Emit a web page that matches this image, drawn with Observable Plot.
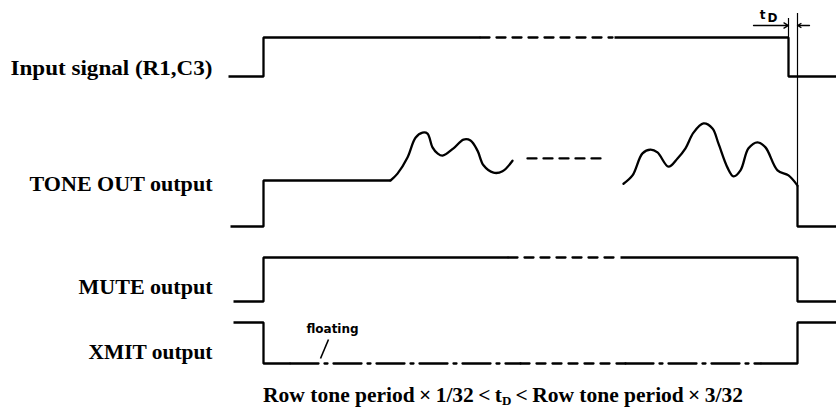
<!DOCTYPE html>
<html><head><meta charset="utf-8">
<script src="https://cdn.jsdelivr.net/npm/d3@7"></script>
<script src="https://cdn.jsdelivr.net/npm/@observablehq/plot@0.6"></script>
<style>
body{margin:0;background:#fff;}
#wrap{width:836px;}
#caption{position:relative;height:37px;width:836px;font-family:"Liberation Serif",serif;font-size:21.5px;line-height:30px;color:#000;}
#caption span{position:absolute;left:503px;transform:translateX(-50%);white-space:nowrap;font-weight:bold;}
#caption sub{font-size:13px;vertical-align:-3px;line-height:0;}
</style></head><body><div id="wrap"></div>
<script>
// Time in arbitrary units (t = 0 at the rising edge of the input); level 0 = low, 1 = high.
const inputA   = [[-35,0],[0,0],[0,1],[217,1]];
const inputB   = [[217,1],[349,1]];                       // broken (time gap)
const inputC   = [[351,1],[525,1],[525,0],[573,0]];

const toneStep = [[-33,0],[0,0],[0,1],[127,1]];
const toneBurst1 = [[127,1],[134,1.15],[144,1.5],[152,1.93],[159,2.04],[164,2.02],[169,1.72],[174,1.59],[179,1.54],[190,1.7],[200,1.89],[207,1.87],[214,1.65],[220,1.33],[230,1.17],[239,1.2],[249,1.43]];
const toneGap  = [[264,1.48],[340,1.48]];
const toneBurst2 = [[360,0.93],[369,1.11],[379,1.59],[387,1.67],[394,1.61],[405,1.3],[414,1.48],[422,1.7],[430,2.04],[440,2.24],[449,2.13],[455,1.8],[464,1.28],[470,1.09],[477,1.22],[485,1.7],[494,1.83],[502,1.72],[514,1.22],[525,1.11],[534,0.89]];
const toneFall = [[534,0.89],[534,0],[573,0]];

const muteA = [[-30,0],[0,0],[0,1],[245,1]];
const muteB = [[245,1],[357,1]];
const muteC = [[357,1],[534,1],[534,0],[573,0]];

const xmitA = [[-30,1],[0,1],[0,0],[27,0]];
const xmitFloat1 = [[27,0],[257,0]];
const xmitFloat2 = [[257,0],[362,0]];
const xmitFloat3 = [[362,0],[497,0]];
const xmitB = [[497,0],[534,0],[534,1],[573,1]];

const signalLabels = ["Input signal (R1,C3)", "TONE OUT output", "MUTE output", "XMIT output"];
const tracks = ["input", "tone", "mute", "xmit"];
const edgeTimes = [525, 534];   // input falls, outputs fall (t_D later)

// ---- layout (pixels) ----
const trackBase = {input: 76, tone: 226, mute: 301, xmit: 363};
const trackAmp  = {input: 39, tone: 46, mute: 44, xmit: 41};
const labelY    = {input: 67, tone: 183, mute: 286, xmit: 351};
const labelWidth = {input: 202, tone: 183, mute: 134, xmit: 124};

const traces = [
  {track:"input", style:"solid",  pts: inputA},
  {track:"input", style:"dash",   pts: inputB},
  {track:"input", style:"solid",  pts: inputC},
  {track:"tone",  style:"solid",  pts: toneStep},
  {track:"tone",  style:"curve",  pts: toneBurst1},
  {track:"tone",  style:"dash",   pts: toneGap},
  {track:"tone",  style:"curve",  pts: toneBurst2},
  {track:"tone",  style:"solid",  pts: toneFall},
  {track:"mute",  style:"solid",  pts: muteA},
  {track:"mute",  style:"dash",   pts: muteB},
  {track:"mute",  style:"solid",  pts: muteC},
  {track:"xmit",  style:"solid",  pts: xmitA},
  {track:"xmit",  style:"dashdot",pts: xmitFloat1},
  {track:"xmit",  style:"dash",   pts: xmitFloat2},
  {track:"xmit",  style:"dashdot",pts: xmitFloat3},
  {track:"xmit",  style:"solid",  pts: xmitB}
];
const rows = traces.flatMap((tr, i) => tr.pts.map(([t, l]) => ({id: i, style: tr.style, t, y: trackBase[tr.track] - l * trackAmp[tr.track]})));
const of = s => rows.filter(r => r.style === s);

const labelRows = signalLabels.map((s, i) => ({text: s, t: -51, y: labelY[tracks[i]]}));

const serif = "Liberation Serif, serif";
const sans = "DejaVu Sans, sans-serif";
const W = 2.3;

const plot = Plot.plot({
  width: 836, height: 380,
  marginTop: 0, marginBottom: 0, marginLeft: 0, marginRight: 0,
  x: {domain: [-263, 573], range: [0, 836], axis: null},
  y: {domain: [0, 380], range: [0, 380], axis: null},
  style: {background: "#fff"},
  marks: [
    Plot.line(of("solid"), {x: "t", y: "y", z: "id", stroke: "#000", strokeWidth: W, strokeLinejoin: "miter", strokeLinecap: "butt"}),
    Plot.line(of("curve"), {x: "t", y: "y", z: "id", stroke: "#000", strokeWidth: W, curve: "catmull-rom", strokeLinecap: "round"}),
    Plot.line(of("dash"), {x: "t", y: "y", z: "id", stroke: "#000", strokeWidth: W, strokeDasharray: "9,7"}),
    Plot.line(of("dashdot"), {x: "t", y: "y", z: "id", stroke: "#000", strokeWidth: W, strokeDasharray: "28,6,3,6"}),
    // t_D markers
    Plot.ruleX([edgeTimes[0]], {y1: 18, y2: 37, stroke: "#000", strokeWidth: 1.2}),
    Plot.ruleX([edgeTimes[1]], {y1: 13, y2: 185, stroke: "#000", strokeWidth: 1.2}),
    Plot.arrow([{x1: 490, x2: edgeTimes[0], y: 25}, {x1: 546, x2: edgeTimes[1], y: 25}],
      {x1: "x1", x2: "x2", y1: "y", y2: "y", stroke: "#000", strokeWidth: 1.3, headLength: 6}),
    Plot.text(["t"], {x: 499, y: 15, fontFamily: sans, fontSize: 12, fontWeight: "bold"}),
    Plot.text(["D"], {x: 509, y: 18, fontFamily: sans, fontSize: 12, fontWeight: "bold"}),
    // floating note
    Plot.text(["floating"], {x: 69, y: 329, fontFamily: sans, fontSize: 12, fontWeight: "bold"}),
    Plot.link([{x1: 65, y1: 339, x2: 57, y2: 358}], {x1: "x1", y1: "y1", x2: "x2", y2: "y2", stroke: "#000", strokeWidth: 1.6}),
    // signal names
    Plot.text(labelRows, {x: "t", y: "y", text: "text", textAnchor: "end", fontFamily: serif, fontSize: 22, fontWeight: "bold", fill: "#000"})
  ]
});
// fit the signal names to the widths they have in the original drawing
const widthByText = Object.fromEntries(signalLabels.map((s, i) => [s, labelWidth[tracks[i]]]));
plot.querySelectorAll("text").forEach(el => {
  const w = widthByText[el.textContent];
  if (w) { el.setAttribute("textLength", w); el.setAttribute("lengthAdjust", "spacingAndGlyphs"); }
});
document.getElementById("wrap").append(plot);
const cap = document.createElement("div");
cap.id = "caption";
cap.innerHTML = "<span>Row tone period\u2009×\u20091/32\u2009<\u2009t<sub>D</sub>\u2009<\u2009Row tone period\u2009×\u20093/32</span>";
document.getElementById("wrap").append(cap);
</script></body></html>
